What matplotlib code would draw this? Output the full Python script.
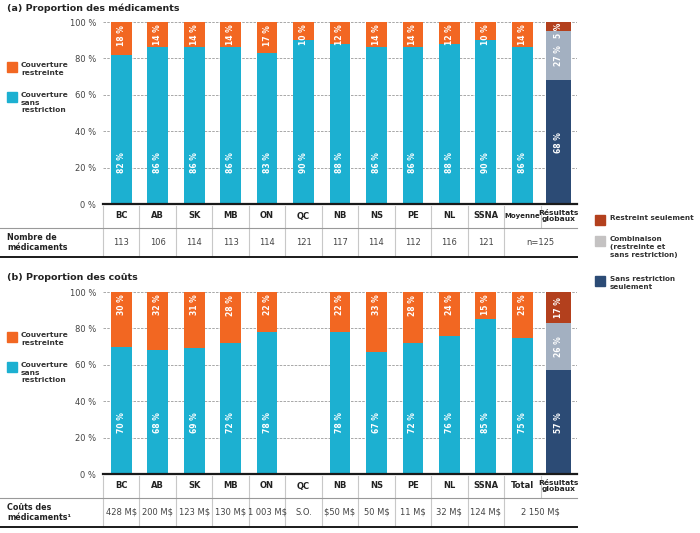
import numpy as np
import matplotlib.pyplot as plt
from matplotlib.patches import Rectangle
from matplotlib.transforms import blended_transform_factory

W, H = 700, 533

regions = ["BC", "AB", "SK", "MB", "ON", "QC", "NB", "NS", "PE", "NL", "SSNA"]

# (a) proportion of drugs
drug_unres = [82, 86, 86, 86, 83, 90, 88, 86, 86, 88, 90, 86]
drug_res = [18, 14, 14, 14, 17, 10, 12, 14, 14, 12, 10, 14]
drug_global = [68, 27, 5]  # sans restriction, combinaison, restreint seulement
drug_counts = ["113", "106", "114", "113", "114", "121", "117", "114", "112", "116", "121"]
drug_total = "n=125"

# (b) proportion of costs (no data for QC)
cost_unres = [70, 68, 69, 72, 78, None, 78, 67, 72, 76, 85, 75]
cost_res = [30, 32, 31, 28, 22, None, 22, 33, 28, 24, 15, 25]
cost_global = [57, 26, 17]
cost_values = ["428 M$", "200 M$", "123 M$", "130 M$", "1 003 M$", "S.O.",
               "$50 M$", "50 M$", "11 M$", "32 M$", "124 M$"]
cost_total = "2 150 M$"

ORANGE = "#F26722"
TEAL = "#1CB0D1"
DARKRED = "#B3401D"
GRAY = "#A3B0C1"
GRAY_LEG = "#C4C2C2"
NAVY = "#2C4B75"
TXT = "#333333"

plt.rcParams['font.family'] = ['DejaVu Sans']

fig = plt.figure(figsize=(7, 5.33), dpi=100)


def fx(px):
    return px / W


def fy(py):
    return 1 - py / H


def square(x, y, color):
    fig.add_artist(Rectangle((fx(x), fy(y + 10)), 10 / W, 10 / H, color=color,
                             transform=fig.transFigure))


def legend_text(x, y, s, size=5.4):
    fig.text(fx(x), fy(y), s, fontsize=size, fontweight="bold", color=TXT,
             va="top", ha="left", linespacing=1.35)


def draw_panel(top, title, unres, res, glob, last_label, last_size,
               row_label, row_values, row_total, unres_y):
    ax = fig.add_axes([fx(103), fy(top + 182), 474 / W, 182 / H])
    ax.set_xlim(-0.5, 12.5)
    ax.set_ylim(0, 100)
    for s in ["top", "left", "right"]:
        ax.spines[s].set_visible(False)
    ax.spines["bottom"].set_linewidth(1.6)
    ax.spines["bottom"].set_color("#1a1a1a")
    ax.set_yticks(np.arange(0, 101, 20))
    ax.set_yticklabels([f"{v} %" for v in range(0, 101, 20)], fontsize=6, color="#444444")
    ax.tick_params(axis="y", length=0, pad=5)
    ax.set_xticks([])
    ax.yaxis.grid(True, linestyle=(0, (3, 1.5)), color="#9a9a9a", linewidth=0.6)
    ax.set_axisbelow(True)

    lab = dict(color="white", fontsize=5.5, fontweight="bold", rotation=90, ha="center")
    for i, (u, r) in enumerate(zip(unres, res)):
        if u is None:
            continue
        ax.bar(i, u, 0.57, color=TEAL, zorder=2)
        ax.bar(i, r, 0.57, bottom=u, color=ORANGE, zorder=2)
        ax.text(i, unres_y, f"{u} %", va="center", zorder=3, **lab)
        ax.text(i, 98.5, f"{r} %", va="top", zorder=3, **lab)

    gx = 12
    bottom = 0
    for v, c in zip(glob, [NAVY, GRAY, DARKRED]):
        ax.bar(gx, v, 0.69, bottom=bottom, color=c, zorder=2)
        if v < 8:
            ax.text(gx, 99.5, f"{v} %", va="top", zorder=3, **lab)
        else:
            ax.text(gx, bottom + v / 2, f"{v} %", va="center", zorder=3, **lab)
        bottom += v

    # table under the axes
    tr = blended_transform_factory(ax.transData, fig.transFigure)
    base = top + 182
    h1, h2 = base + 24, base + 53
    headers = regions + [last_label, "Résultats\nglobaux"]
    for i, hd in enumerate(headers):
        size = 6
        if i == 11:
            size = last_size
        if i == 12:
            size = 5.4
        ax.text(i, fy((base + h1) / 2), hd, transform=tr, ha="center", va="center",
                fontsize=size, fontweight="bold", color="#222222", linespacing=1.1,
                clip_on=False)
    for i, val in enumerate(row_values):
        ax.text(i, fy((h1 + h2) / 2), val, transform=tr, ha="center", va="center",
                fontsize=6, color="#444444", clip_on=False, parse_math=False)
    ax.text(11.5, fy((h1 + h2) / 2), row_total, transform=tr, ha="center", va="center",
            fontsize=6, color="#444444", clip_on=False, parse_math=False)

    for k in range(13):
        xs = k - 0.5
        ax.plot([xs, xs], [fy(base + 2), fy(h1 - 1)], transform=tr, color="#c8c8c8",
                lw=0.8, clip_on=False)
        if k <= 11:
            ax.plot([xs, xs], [fy(h1 + 1), fy(h2 - 1)], transform=tr, color="#c8c8c8",
                    lw=0.8, clip_on=False)
    fig.add_artist(plt.Line2D([0, fx(577)], [fy(h1), fy(h1)], color="#999999", lw=0.8,
                              transform=fig.transFigure))
    fig.add_artist(plt.Line2D([0, fx(577)], [fy(h2), fy(h2)], color="#1a1a1a", lw=1.4,
                              transform=fig.transFigure))

    fig.text(fx(7), fy((h1 + h2) / 2), row_label, fontsize=5.8, fontweight="bold",
             color="#222222", ha="left", va="center", linespacing=1.15)
    fig.text(fx(7), fy(top - 14), title, fontsize=6.8, fontweight="bold",
             color="#222222", ha="left", va="center")

    # left legend
    square(7, top + 40, ORANGE)
    legend_text(21, top + 40, "Couverture\nrestreinte")
    square(7, top + 70, TEAL)
    legend_text(21, top + 70, "Couverture\nsans\nrestriction")
    return ax


draw_panel(22, "(a) Proportion des médicaments", drug_unres, drug_res, drug_global,
           "Moyenne", 5.0, "Nombre de\nmédicaments", drug_counts, drug_total, 23)
draw_panel(292, "(b) Proportion des coûts", cost_unres, cost_res, cost_global,
           "Total", 6, "Coûts des\nmédicaments¹", cost_values, cost_total, 28.5)

# right legend
square(595, 215, DARKRED)
legend_text(610, 215, "Restreint seulement", 5.2)
square(595, 236, GRAY_LEG)
legend_text(610, 236, "Combinaison\n(restreinte et\nsans restriction)", 5.2)
square(595, 276, NAVY)
legend_text(610, 276, "Sans restriction\nseulement", 5.2)

fig.savefig("out.png", dpi=100)
